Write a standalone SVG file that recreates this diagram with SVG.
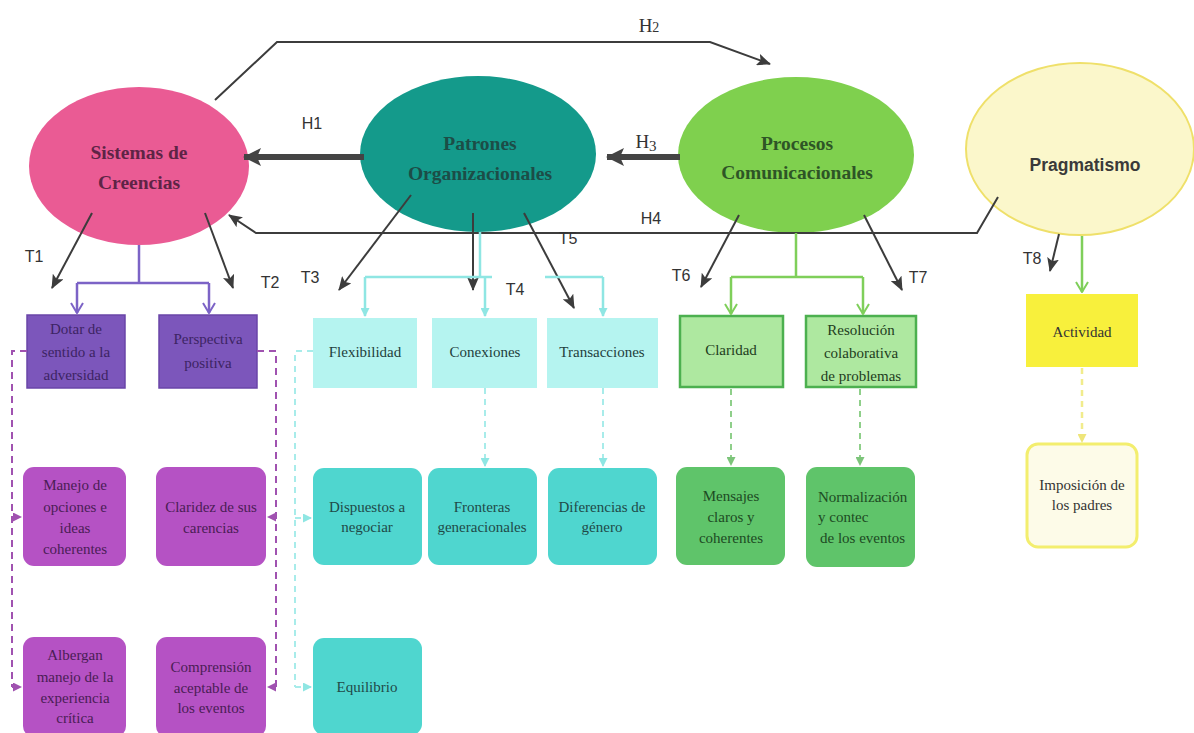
<svg xmlns="http://www.w3.org/2000/svg" width="1194" height="733" viewBox="0 0 1194 733">
<style>
.ser{font-family:"Liberation Serif","DejaVu Serif",serif;text-anchor:middle}
.bx{font-size:15px}
.el{font-size:19.5px;font-weight:bold}
.lab{font-family:"Liberation Sans","DejaVu Sans",sans-serif;font-size:16px;fill:#333}
.dk{stroke:#3c3c3c;stroke-width:2;fill:none}
.thick{stroke:#444;stroke-width:6;fill:none}
.pur{stroke:#7c63c6;stroke-width:2.5;fill:none}
.pdash{stroke:#a052b0;stroke-width:2;fill:none;stroke-dasharray:7 5}
.cy{stroke:#8fe6e3;stroke-width:2.5;fill:none}
.cdash{stroke:#a8ecea;stroke-width:2;fill:none;stroke-dasharray:6 5}
.gr{stroke:#7fcf5a;stroke-width:2.5;fill:none}
.gdash{stroke:#8fcf8a;stroke-width:2;fill:none;stroke-dasharray:6 5}
.ydash{stroke:#f1ec8c;stroke-width:2.5;fill:none;stroke-dasharray:6 5}
</style>
<defs>
<marker id="aDk" markerUnits="userSpaceOnUse" markerWidth="14" markerHeight="12" refX="13" refY="6" orient="auto"><path d="M0,0 L14,6 L0,12 L3,6 z" fill="#3c3c3c"/></marker>
<marker id="aTh" markerUnits="userSpaceOnUse" markerWidth="18" markerHeight="18" refX="17" refY="9" orient="auto"><path d="M0,0 L18,9 L0,18 L4,9 z" fill="#444"/></marker>
<marker id="aPu" markerUnits="userSpaceOnUse" markerWidth="12" markerHeight="14" refX="11" refY="7" orient="auto"><path d="M1,1 L11,7 L1,13" fill="none" stroke="#7c63c6" stroke-width="2"/></marker>
<marker id="aMg" markerUnits="userSpaceOnUse" markerWidth="9" markerHeight="9" refX="8" refY="4.5" orient="auto"><path d="M0,0 L9,4.5 L0,9 z" fill="#a052b0"/></marker>
<marker id="aCy" markerUnits="userSpaceOnUse" markerWidth="9" markerHeight="9" refX="8" refY="4.5" orient="auto"><path d="M0,0 L9,4.5 L0,9 z" fill="#8fe6e3"/></marker>
<marker id="aGr" markerUnits="userSpaceOnUse" markerWidth="12" markerHeight="14" refX="11" refY="7" orient="auto"><path d="M1,1 L11,7 L1,13" fill="none" stroke="#7fcf5a" stroke-width="2"/></marker>
<marker id="aGd" markerUnits="userSpaceOnUse" markerWidth="9" markerHeight="9" refX="8" refY="4.5" orient="auto"><path d="M0,0 L9,4.5 L0,9 z" fill="#7cc47a"/></marker>
<marker id="aYe" markerUnits="userSpaceOnUse" markerWidth="9" markerHeight="9" refX="8" refY="4.5" orient="auto"><path d="M0,0 L9,4.5 L0,9 z" fill="#eee57a"/></marker>
</defs>
<rect width="1194" height="733" fill="#ffffff"/>

<!-- Main ellipses -->
<g id="sistemas">
<ellipse cx="139" cy="166" rx="110" ry="79" fill="#ea5b94"/>
<text class="ser el" x="139" y="159" fill="#5e2446">Sistemas de</text>
<text class="ser el" x="139" y="189" fill="#5e2446">Creencias</text>
</g>
<g id="patrones">
<ellipse cx="478" cy="154" rx="118" ry="78" fill="#149a8b"/>
<text class="ser el" x="480" y="150" fill="#1c4d47">Patrones</text>
<text class="ser el" x="480" y="180" fill="#1c4d47">Organizacionales</text>
</g>
<g id="procesos">
<ellipse cx="796" cy="155" rx="118" ry="78" fill="#7fd04e"/>
<text class="ser el" x="797" y="150" fill="#2e5526">Procesos</text>
<text class="ser el" x="797" y="179" fill="#2e5526">Comunicacionales</text>
</g>
<g id="pragmatismo">
<ellipse cx="1080" cy="149" rx="114" ry="86" fill="#fbf7cb" stroke="#efe06a" stroke-width="2"/>
<text x="1085" y="171" font-family="Liberation Sans, DejaVu Sans, sans-serif" font-size="17.5" font-weight="bold" fill="#3a3a3a" text-anchor="middle">Pragmatismo</text>
</g>

<!-- Purple boxes -->
<g id="dotar">
<rect x="27" y="315" width="98" height="73" fill="#7c56bb" stroke="#6a45a8" stroke-width="1.5"/>
<text class="ser bx" fill="#3d2463"><tspan x="76" y="334">Dotar de</tspan><tspan x="76" y="357">sentido a la</tspan><tspan x="76" y="380">adversidad</tspan></text>
</g>
<g id="perspectiva">
<rect x="159" y="315" width="98" height="73" fill="#7c56bb" stroke="#6a45a8" stroke-width="1.5"/>
<text class="ser bx" fill="#3d2463"><tspan x="208" y="344">Perspectiva</tspan><tspan x="208" y="368">positiva</tspan></text>
</g>
<g id="manejo">
<rect x="23" y="467" width="103" height="99" rx="11" fill="#b552c4"/>
<text class="ser bx" fill="#4a1d55"><tspan x="75" y="490">Manejo de</tspan><tspan x="75" y="512">opciones e</tspan><tspan x="75" y="533">ideas</tspan><tspan x="75" y="554">coherentes</tspan></text>
</g>
<g id="claridez">
<rect x="156" y="467" width="110" height="99" rx="11" fill="#b552c4"/>
<text class="ser bx" fill="#4a1d55"><tspan x="211" y="512">Claridez de sus</tspan><tspan x="211" y="533">carencias</tspan></text>
</g>
<g id="albergan">
<rect x="23" y="637" width="103" height="100" rx="11" fill="#b552c4"/>
<text class="ser bx" fill="#4a1d55"><tspan x="75" y="660">Albergan</tspan><tspan x="75" y="682">manejo de la</tspan><tspan x="75" y="703">experiencia</tspan><tspan x="75" y="723">crítica</tspan></text>
</g>
<g id="comprension">
<rect x="156" y="637" width="110" height="100" rx="11" fill="#b552c4"/>
<text class="ser bx" fill="#4a1d55"><tspan x="211" y="672">Comprensión</tspan><tspan x="211" y="693">aceptable de</tspan><tspan x="211" y="713">los eventos</tspan></text>
</g>

<!-- Cyan boxes -->
<g id="flexibilidad">
<rect x="313" y="318" width="104" height="70" fill="#b5f4f0"/>
<text class="ser bx" x="365" y="357" fill="#1f3f3d">Flexibilidad</text>
</g>
<g id="conexiones">
<rect x="432" y="318" width="105" height="70" fill="#b5f4f0"/>
<text class="ser bx" x="485" y="357" fill="#1f3f3d">Conexiones</text>
</g>
<g id="transacciones">
<rect x="547" y="318" width="111" height="70" fill="#b5f4f0"/>
<text class="ser bx" x="602" y="357" fill="#1f3f3d">Transacciones</text>
</g>
<g id="dispuestos">
<rect x="313" y="468" width="109" height="97" rx="11" fill="#4fd6cf"/>
<text class="ser bx" fill="#1f4a48"><tspan x="367" y="512">Dispuestos a</tspan><tspan x="367" y="532">negociar</tspan></text>
</g>
<g id="fronteras">
<rect x="428" y="468" width="109" height="97" rx="11" fill="#4fd6cf"/>
<text class="ser bx" fill="#1f4a48"><tspan x="482" y="512">Fronteras</tspan><tspan x="482" y="532">generacionales</tspan></text>
</g>
<g id="diferencias">
<rect x="548" y="468" width="109" height="97" rx="11" fill="#4fd6cf"/>
<text class="ser bx" fill="#1f4a48"><tspan x="602" y="512">Diferencias de</tspan><tspan x="602" y="532">género</tspan></text>
</g>
<g id="equilibrio">
<rect x="313" y="638" width="109" height="97" rx="11" fill="#4fd6cf"/>
<text class="ser bx" x="367" y="692" fill="#1f4a48">Equilibrio</text>
</g>

<!-- Green boxes -->
<g id="claridad">
<rect x="680" y="316" width="103" height="71" fill="#aee8a0" stroke="#4cb04f" stroke-width="2.5"/>
<text class="ser bx" x="731" y="355" fill="#1e3d20">Claridad</text>
</g>
<g id="resolucion">
<rect x="806" y="316" width="110" height="71" fill="#aee8a0" stroke="#4cb04f" stroke-width="2.5"/>
<text class="ser bx" fill="#1e3d20"><tspan x="861" y="335">Resolución</tspan><tspan x="861" y="358">colaborativa</tspan><tspan x="861" y="381">de problemas</tspan></text>
</g>
<g id="mensajes">
<rect x="676" y="467" width="109" height="98" rx="11" fill="#5fc46a"/>
<text class="ser bx" fill="#1d4a23"><tspan x="731" y="501">Mensajes</tspan><tspan x="731" y="522">claros y</tspan><tspan x="731" y="543">coherentes</tspan></text>
</g>
<g id="normalizacion">
<rect x="806" y="467" width="109" height="100" rx="11" fill="#5fc46a"/>
<text class="ser bx" fill="#1d4a23" style="text-anchor:start"><tspan x="818" y="502">Normalización</tspan><tspan x="818" y="522">y contec</tspan><tspan x="820" y="543">de los eventos</tspan></text>
</g>

<!-- Yellow boxes -->
<g id="actividad">
<rect x="1026" y="294" width="112" height="73" fill="#f8f03c"/>
<text class="ser bx" x="1082" y="337" fill="#333">Actividad</text>
</g>
<g id="imposicion">
<rect x="1027" y="444" width="110" height="103" rx="11" fill="#fdfbe8" stroke="#f3ee6e" stroke-width="3"/>
<text class="ser bx" fill="#333"><tspan x="1082" y="490">Imposición de</tspan><tspan x="1082" y="510">los padres</tspan></text>
</g>

<!-- Connectors -->
<g id="connectors">
<path class="dk" d="M215,100 L277,42 L710,42 L770,64" marker-end="url(#aDk)"/>
<path class="dk" d="M998,197 L977,233 L256,233 L229,215" marker-end="url(#aDk)"/>
<path class="thick" d="M364,157 L244,157" marker-end="url(#aTh)"/>
<path class="thick" d="M680,157 L607,157" marker-end="url(#aTh)"/>
<path class="dk" d="M92,213 L52,288" marker-end="url(#aDk)"/>
<path class="dk" d="M205,213 L233,288" marker-end="url(#aDk)"/>
<path class="dk" d="M411,195 L339,290" marker-end="url(#aDk)"/>
<path class="dk" d="M473,213 L473,290" marker-end="url(#aDk)"/>
<path class="dk" d="M524,213 L574,308" marker-end="url(#aDk)"/>
<path class="dk" d="M739,215 L701,287" marker-end="url(#aDk)"/>
<path class="dk" d="M864,215 L902,290" marker-end="url(#aDk)"/>
<path class="dk" d="M1059,234 L1050,271" marker-end="url(#aDk)"/>

<path class="pur" d="M139,245 L139,283 M77,283 L209,283"/>
<path class="pur" d="M77,283 L77,313" marker-end="url(#aPu)"/>
<path class="pur" d="M209,283 L209,313" marker-end="url(#aPu)"/>
<path class="pdash" d="M27,351 L12,351 L12,687"/>
<path class="pdash" d="M12,517 L21,517" marker-end="url(#aMg)"/>
<path class="pdash" d="M12,687 L21,687" marker-end="url(#aMg)"/>
<path class="pdash" d="M257,351 L276,351 L276,687"/>
<path class="pdash" d="M276,517 L268,517" marker-end="url(#aMg)"/>
<path class="pdash" d="M276,687 L268,687" marker-end="url(#aMg)"/>

<path class="cy" d="M480,232 L480,277 M365,277 L492,277 M545,277 L603,277"/>
<path class="cy" d="M365,277 L365,316" marker-end="url(#aCy)"/>
<path class="cy" d="M485,277 L485,316" marker-end="url(#aCy)"/>
<path class="cy" d="M603,277 L603,316" marker-end="url(#aCy)"/>
<path class="cdash" d="M485,388 L485,466" marker-end="url(#aCy)"/>
<path class="cdash" d="M603,388 L603,466" marker-end="url(#aCy)"/>
<path class="cdash" d="M313,351 L295,351 L295,687"/>
<path class="cdash" d="M295,518 L311,518" marker-end="url(#aCy)"/>
<path class="cdash" d="M295,687 L311,687" marker-end="url(#aCy)"/>

<path class="gr" d="M796,233 L796,277 M731,277 L863,277"/>
<path class="gr" d="M731,277 L731,314" marker-end="url(#aGr)"/>
<path class="gr" d="M863,277 L863,314" marker-end="url(#aGr)"/>
<path class="gdash" d="M731,389 L731,465" marker-end="url(#aGd)"/>
<path class="gdash" d="M860,389 L860,465" marker-end="url(#aGd)"/>

<path class="gr" d="M1082,236 L1082,292" marker-end="url(#aGr)"/>
<path class="ydash" d="M1082,368 L1082,442" marker-end="url(#aYe)"/>
</g>

<!-- Labels -->
<g id="labels">
<text x="649" y="32" font-family="Liberation Serif, serif" font-size="19" fill="#333" text-anchor="middle">H<tspan font-size="14">2</tspan></text>
<text class="lab" x="312" y="129" text-anchor="middle">H1</text>
<text x="646" y="148" font-family="Liberation Serif, serif" font-size="19" fill="#333" text-anchor="middle">H<tspan font-size="15" dy="3">3</tspan></text>
<text class="lab" x="651" y="224" text-anchor="middle">H4</text>
<text class="lab" x="34" y="262" text-anchor="middle">T1</text>
<text class="lab" x="270" y="288" text-anchor="middle">T2</text>
<text class="lab" x="310" y="283" text-anchor="middle">T3</text>
<text class="lab" x="515" y="295" text-anchor="middle" font-size="13">T4</text>
<text class="lab" x="568" y="244" text-anchor="middle">T5</text>
<text class="lab" x="681" y="281" text-anchor="middle">T6</text>
<text class="lab" x="918" y="283" text-anchor="middle">T7</text>
<text class="lab" x="1032" y="264" text-anchor="middle">T8</text>
</g>
</svg>
